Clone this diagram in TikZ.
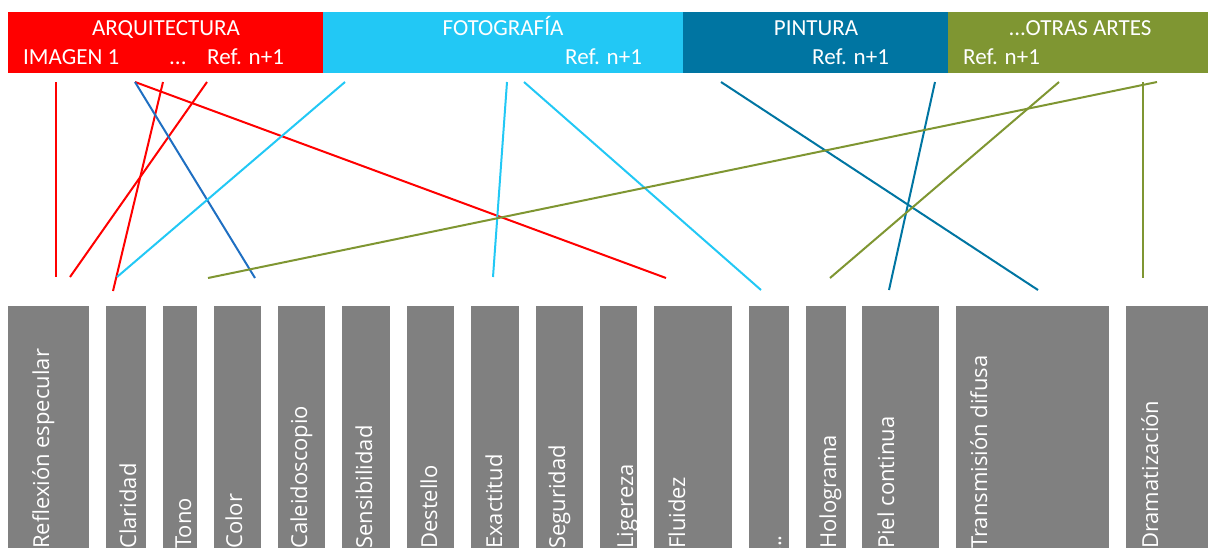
\documentclass[tikz,border=0pt]{standalone}
\usepackage{fontspec}
\setmainfont{Carlito}
\newfontfamily\barfont{Open Sans}
\definecolor{arqred}{HTML}{FF0000}
\definecolor{fotocyan}{HTML}{22C8F5}
\definecolor{pintblue}{HTML}{0075A2}
\definecolor{otrasolive}{HTML}{7F9632}
\definecolor{lineblue}{HTML}{1F6FC2}
\definecolor{bargray}{HTML}{808080}
\tikzset{
  band/.style={fill=#1, inner sep=0pt, anchor=north west, minimum height=61pt},
  head/.style={text=white, font=\fontsize{23}{23}\selectfont, inner sep=0pt},
  bar/.style={fill=bargray, inner sep=0pt, anchor=north west, minimum height=260pt},
  bartext/.style={text=white, font=\barfont\fontsize{22}{22}\selectfont, inner sep=0pt, rotate=90, anchor=base west},
  link/.style={line width=2pt, draw=#1}
}
\begin{document}
\begin{tikzpicture}[x=1pt,y=-1pt]
\useasboundingbox (0,0) rectangle (1208,547);
\clip (0,0) rectangle (1208,547);

          \node [band=arqred, minimum width=315pt] at (8,12) (arq) {};
             \node [band=fotocyan, minimum width=360pt] at (323,12) (foto) {};
              \node [band=pintblue, minimum width=265pt] at (683,12) (pint) {};
               \node [band=otrasolive, minimum width=260pt] at (948,12) (otras) {};
%
                \node [head, anchor=base] at (166,35) (arq t) {ARQUITECTURA};
                 \node [head, anchor=base west] at (23,64) (arq img) {IMAGEN 1};
                 \node [head, anchor=base west] at (169,64) (arq dots) {...};
                 \node [head, anchor=base west] at (207,64) (arq ref) {Ref. n+1};
                \node [head, anchor=base] at (503,35) (foto t) {FOTOGRAFÍA};
                 \node [head, anchor=base west] at (565,64) (foto ref) {Ref. n+1};
                \node [head, anchor=base] at (816,35) (pint t) {PINTURA};
                 \node [head, anchor=base west] at (812,64) (pint ref) {Ref. n+1};
                \node [head, anchor=base] at (1080,35) (otras t) {...OTRAS ARTES};
                 \node [head, anchor=base west] at (963,64) (otras ref) {Ref. n+1};
%
          \node [bar, minimum width=81pt] at (8,306) (refl) {};
          \node [bar, minimum width=40pt] at (106,306) (clar) {};
          \node [bar, minimum width=34pt] at (163,306) (tono) {};
          \node [bar, minimum width=47pt] at (214,306) (color) {};
          \node [bar, minimum width=47pt] at (278,306) (cal) {};
          \node [bar, minimum width=48pt] at (342,306) (sens) {};
          \node [bar, minimum width=47pt] at (407,306) (dest) {};
          \node [bar, minimum width=48pt] at (471,306) (exac) {};
          \node [bar, minimum width=47pt] at (536,306) (seg) {};
          \node [bar, minimum width=37pt] at (600,306) (lig) {};
          \node [bar, minimum width=78pt] at (654,306) (flu) {};
          \node [bar, minimum width=40pt] at (749,306) (etc) {};
          \node [bar, minimum width=40pt] at (806,306) (holo) {};
          \node [bar, minimum width=77pt] at (862,306) (piel) {};
          \node [bar, minimum width=153pt] at (956,306) (trans) {};
          \node [bar, minimum width=82pt] at (1126,306) (dram) {};
%
          \node [bartext] at (49,549) (refl t) {Reflexión especular};
          \node [bartext] at (136,549) (clar t) {Claridad};
          \node [bartext] at (191,549) (tono t) {Tono};
          \node [bartext] at (242,549) (color t) {Color};
          \node [bartext] at (307,549) (cal t) {Caleidoscopio};
          \node [bartext] at (372,549) (sens t) {Sensibilidad};
          \node [bartext] at (437,549) (dest t) {Destello};
          \node [bartext] at (502,549) (exac t) {Exactitud};
          \node [bartext] at (565,549) (seg t) {Seguridad};
          \node [bartext] at (633,549) (lig t) {Ligereza};
          \node [bartext] at (685,549) (flu t) {Fluidez};
          \node [bartext] at (781,553) (etc t) {...};
          \node [bartext] at (836,549) (holo t) {Holograma};
          \node [bartext] at (894,549) (piel t) {Piel continua};
          \node [bartext] at (987,549) (trans t) {Transmisión difusa};
          \node [bartext] at (1158,549) (dram t) {Dramatización};
%
\coordinate (r1 a) at (56,82);   \coordinate (r1 b) at (56,277);
\coordinate (r2 a) at (207,82);  \coordinate (r2 b) at (70,277);
\coordinate (r3 a) at (163,82);  \coordinate (r3 b) at (113,291);
\coordinate (r4 a) at (135,82);  \coordinate (r4 b) at (666,278);
\coordinate (b1 a) at (135,82);  \coordinate (b1 b) at (255,278);
\coordinate (c1 a) at (345,82);  \coordinate (c1 b) at (117,277);
\coordinate (c2 a) at (507,82);  \coordinate (c2 b) at (493,277);
\coordinate (c3 a) at (524,82);  \coordinate (c3 b) at (761,290);
\coordinate (p1 a) at (721,82);  \coordinate (p1 b) at (1038,290);
\coordinate (p2 a) at (935,82);  \coordinate (p2 b) at (889,290);
\coordinate (o1 a) at (1157,82); \coordinate (o1 b) at (208,278);
\coordinate (o2 a) at (1059,82); \coordinate (o2 b) at (830,278);
\coordinate (o3 a) at (1143,82); \coordinate (o3 b) at (1143,278);
%
\path[link=arqred] (r1 a) edge (r1 b);
\path[link=arqred] (r2 a) edge (r2 b);
\path[link=arqred] (r3 a) edge (r3 b);
\path[link=arqred] (r4 a) edge (r4 b);
\path[link=lineblue] (b1 a) edge (b1 b);
\path[link=fotocyan] (c1 a) edge (c1 b);
\path[link=fotocyan] (c2 a) edge (c2 b);
\path[link=fotocyan] (c3 a) edge (c3 b);
\path[link=pintblue] (p1 a) edge (p1 b);
\path[link=pintblue] (p2 a) edge (p2 b);
\path[link=otrasolive] (o1 a) edge (o1 b);
\path[link=otrasolive] (o2 a) edge (o2 b);
\path[link=otrasolive] (o3 a) edge (o3 b);

\end{tikzpicture}
\end{document}
